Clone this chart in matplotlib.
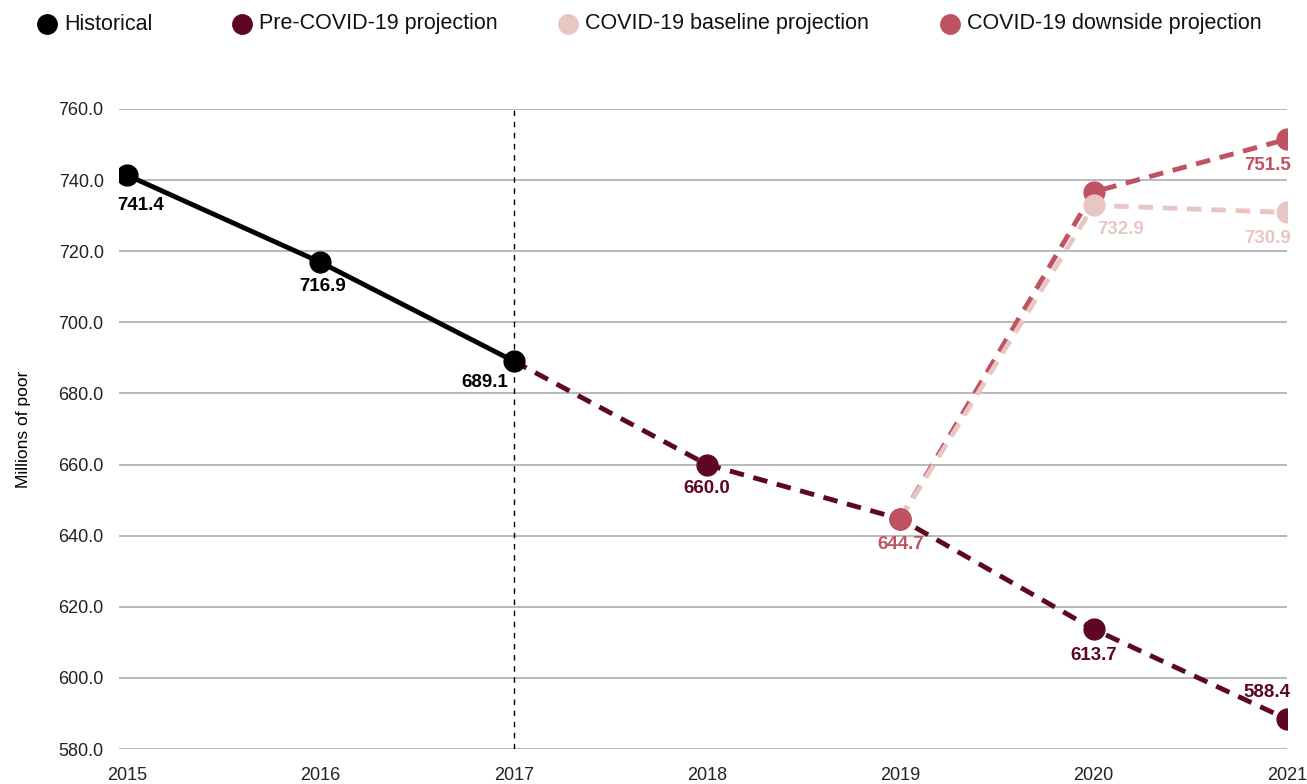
import matplotlib
matplotlib.use("Agg")
import matplotlib.pyplot as plt
from matplotlib.lines import Line2D

plt.rcParams['font.family'] = ['Liberation Sans', 'DejaVu Sans']

# data
hist_years = [2015, 2016, 2017]
hist_vals = [741.4, 716.9, 689.1]

pre_years = [2017, 2018, 2019, 2020, 2021]
pre_vals = [689.1, 660.0, 644.7, 613.7, 588.4]

base_years = [2019, 2020, 2021]
base_vals = [644.7, 732.9, 730.9]

down_years = [2019, 2020, 2021]
down_vals = [644.7, 736.7, 751.5]

legend_labels = ["Historical", "Pre-COVID-19 projection",
                 "COVID-19 baseline projection", "COVID-19 downside projection"]

C_HIST = "#000000"
C_PRE = "#5f0722"
C_BASE = "#e8c6c4"
C_DOWN = "#bf5361"

fig = plt.figure(figsize=(13.07, 7.84), dpi=100)
ax = fig.add_axes([119 / 1307, 35 / 784, (1287 - 119) / 1307, 640 / 784])

dash = (0, (3.0, 2.0))
lw = 3.5
ms = 15

# lines
ax.plot(hist_years, hist_vals, color=C_HIST, lw=lw, zorder=3)
ax.plot(pre_years, pre_vals, color=C_PRE, lw=lw, ls=dash, zorder=3)
ax.plot(down_years, down_vals, color=C_DOWN, lw=lw, ls=dash, zorder=3)
ax.plot(base_years, base_vals, color=C_BASE, lw=lw, ls=dash, zorder=3)

# markers
ax.plot(pre_years[1:], pre_vals[1:], 'o', color=C_PRE, ms=ms, zorder=5)
ax.plot(down_years, down_vals, 'o', color=C_DOWN, ms=ms, zorder=6)
ax.plot(base_years[1:], base_vals[1:], 'o', color=C_BASE, ms=ms, zorder=7)
ax.plot(hist_years, hist_vals, 'o', color=C_HIST, ms=ms, zorder=8)

# value labels: (year, value, color, dx px, dy px, ha)
labels = [
    (hist_years[0], hist_vals[0], C_HIST, 14, -30, 'center'),
    (hist_years[1], hist_vals[1], C_HIST, 2, -24, 'center'),
    (hist_years[2], hist_vals[2], C_HIST, -5, -21, 'right'),
    (pre_years[1], pre_vals[1], C_PRE, 0, -24, 'center'),
    (down_years[0], down_vals[0], C_DOWN, 0, -26, 'center'),
    (pre_years[3], pre_vals[3], C_PRE, 0, -26, 'center'),
    (pre_years[4], pre_vals[4], C_PRE, 3, 27, 'right'),
    (base_years[1], base_vals[1], C_BASE, 27, -24, 'center'),
    (base_years[2], base_vals[2], C_BASE, 4, -26, 'right'),
    (down_years[2], down_vals[2], C_DOWN, 4, -26, 'right'),
]
for x, y, c, dx, dy, ha in labels:
    ax.annotate(f"{y:.1f}", (x, y), xytext=(dx, dy), textcoords='offset pixels',
                ha=ha, va='center', color=c, fontsize=13.5, fontweight='bold', zorder=9)

# vertical divider at 2017
ax.axvline(2017, color='black', lw=1, ls=(0, (4, 4)), zorder=2)

ax.set_xlim(2015 - 8 / 193.3, 2021)
ax.set_ylim(580, 760)
ax.set_yticks(range(580, 761, 20))
ax.set_yticklabels([f"{v:.1f}" for v in range(580, 761, 20)])
ax.set_xticks(range(2015, 2022))
ax.grid(axis='y', color='#b3b3b3', lw=1.3, zorder=0)
ax.tick_params(axis='both', length=0, labelsize=13, colors='#222222')
ax.tick_params(axis='y', pad=11)
ax.tick_params(axis='x', pad=13)
for s in ax.spines.values():
    s.set_visible(False)
ax.set_ylabel("Millions of poor", fontsize=12.5, labelpad=20)

# legend along the top
leg_x = [47, 242, 568, 950]
leg_c = [C_HIST, C_PRE, C_BASE, C_DOWN]
for x, c, t in zip(leg_x, leg_c, legend_labels):
    fig.add_artist(Line2D([x / 1307], [1 - 24 / 784], marker='o', color=c,
                          ms=14, transform=fig.transFigure, ls='none'))
    fig.text((x + 17) / 1307, 1 - 24 / 784, t, fontsize=15.5, va='center',
             ha='left', color='#111111')

fig.savefig("out.png", dpi=100)
